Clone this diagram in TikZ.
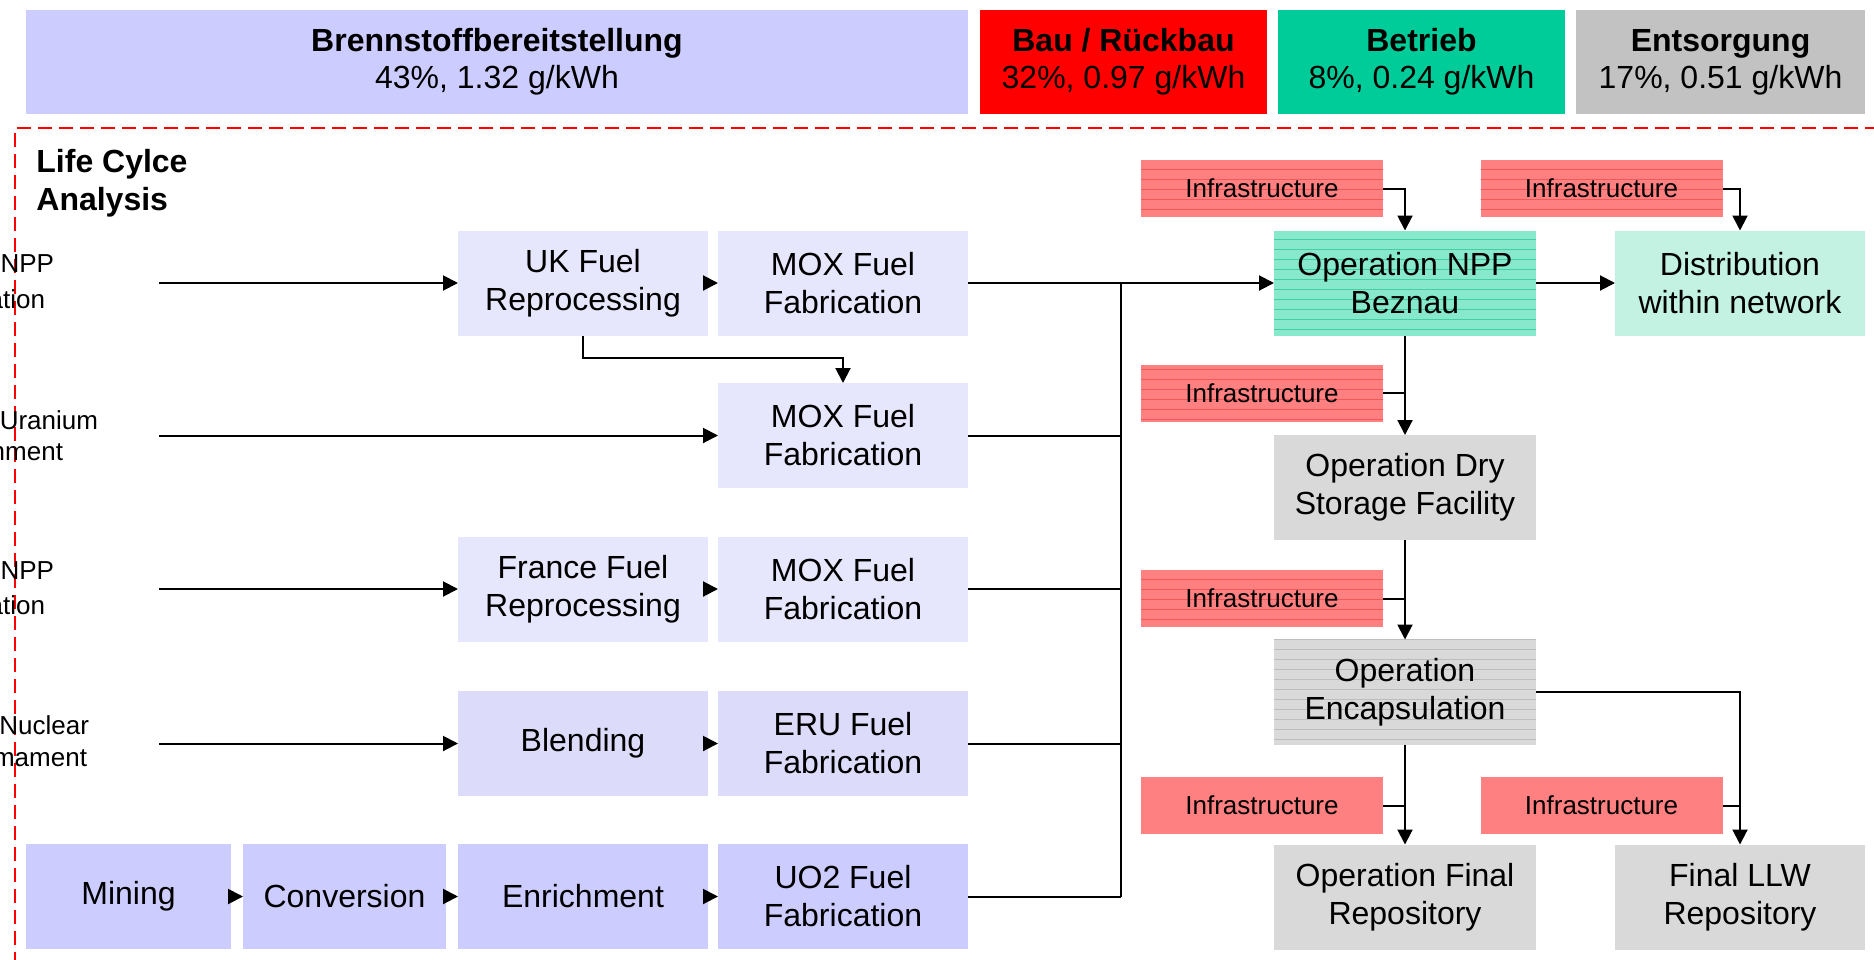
\documentclass[tikz,border=0pt]{standalone}
\usepackage{fontspec}
\setmainfont{Liberation Sans}
\usetikzlibrary{arrows.meta,patterns.meta}
\definecolor{lav}{HTML}{CCCCFF}
\definecolor{lavdot}{HTML}{E6E6FC}
\definecolor{lavdot2}{HTML}{DCDCFA}
\definecolor{hred}{HTML}{FF0000}
\definecolor{hteal}{HTML}{00CC99}
\definecolor{hgray}{HTML}{C2C2C2}
\definecolor{infra}{HTML}{FF8080}
\definecolor{infraline}{HTML}{F25A5A}
\definecolor{opteal}{HTML}{88E8CC}
\definecolor{optealline}{HTML}{44CFA2}
\definecolor{distteal}{HTML}{C4F2E2}
\definecolor{gbox}{HTML}{D9D9D9}
\definecolor{gline}{HTML}{BDBDBD}
\begin{document}
\begin{tikzpicture}[x=0.5pt,y=-0.5pt,
  box/.style={inner sep=0pt, outer sep=0pt, align=center, font=\fontsize{16}{19}\selectfont, minimum height=52.5pt},
  hdr/.style={inner sep=0pt, outer sep=0pt, align=center, font=\fontsize{16}{18.5}\selectfont, minimum height=52pt},
  infrabox/.style={inner sep=0pt, outer sep=0pt, minimum width=121pt, minimum height=28.5pt, font=\fontsize{13}{15}\selectfont},
  lbl/.style={inner sep=0pt, outer sep=0pt, anchor=east, font=\fontsize{13}{15}\selectfont},
  wA/.style={minimum width=102.5pt},
  wB/.style={minimum width=101.5pt},
  wC/.style={minimum width=125pt},
  wD/.style={minimum width=125pt},
  wE/.style={minimum width=131pt},
  lined/.style 2 args={fill=#1, postaction={pattern={Lines[distance=5pt,line width=0.45pt]}, pattern color=#2}},
  arr/.style={-{Triangle[length=7.5pt,width=7.5pt]}, line width=1pt},
  ln/.style={line width=1pt},
  border/.style={red, line width=1pt, dash pattern=on 7pt off 3.5pt}
]
\useasboundingbox (0,0) rectangle (1874,959);

% header
\node[hdr, fill=lav, minimum width=471pt] (h1) at (497,62) {\textbf{Brennstoffbereitstellung}\\43\%, 1.32 g/kWh};
\node[hdr, fill=hred, minimum width=143.5pt] (h2) at (1123.5,62) {\textbf{Bau / Rückbau}\\32\%, 0.97 g/kWh};
\node[hdr, fill=hteal, minimum width=143.5pt] (h3) at (1421.5,62) {\textbf{Betrieb}\\8\%, 0.24 g/kWh};
\node[hdr, fill=hgray, minimum width=144.5pt] (h4) at (1720.5,62) {\textbf{Entsorgung}\\17\%, 0.51 g/kWh};

% dashed life cycle border
\draw[border] (1900,128) -- (15,128) -- (15,990);
\node[inner sep=0pt, anchor=west, align=left, font=\bfseries\fontsize{16}{19}\selectfont] (lca) at (36,183) {Life Cylce\\Analysis};

% left labels (cut by the page edge, as in the reference)
\node[lbl] (l1a) at (54,264) {NPP};
\node[lbl] (l1b) at (45,299) {ation};
\node[lbl] (l2a) at (98,420) {Uranium};
\node[lbl] (l2b) at (63,452) {nment};
\node[lbl] (l3a) at (54,571) {NPP};
\node[lbl] (l3b) at (45,605) {ation};
\node[lbl] (l4a) at (89,725) {Nuclear};
\node[lbl] (l4b) at (87,758) {mament};

\coordinate (s1) at (159,282);
\coordinate (s2) at (159,434.5);
\coordinate (s3) at (159,588);
\coordinate (s4) at (159,742.5);

% fuel supply boxes
\node[box, fill=lavdot, wC] (uk) at (583,283) {UK Fuel\\Reprocessing};
\node[box, fill=lavdot, wD] (mox1) at (843,283) {MOX Fuel\\Fabrication};
\node[box, fill=lavdot, wD] (mox2) at (843,435.5) {MOX Fuel\\Fabrication};
\node[box, fill=lavdot, wC] (fr) at (583,589) {France Fuel\\Reprocessing};
\node[box, fill=lavdot, wD] (mox3) at (843,589) {MOX Fuel\\Fabrication};
\node[box, fill=lavdot2, wC] (blend) at (583,743.5) {Blending};
\node[box, fill=lavdot2, wD] (eru) at (843,743.5) {ERU Fuel\\Fabrication};
\node[box, fill=lav, wA] (mining) at (128.5,896.5) {Mining};
\node[box, fill=lav, wB] (conv) at (344.5,896.5) {Conversion};
\node[box, fill=lav, wC] (enr) at (583,896.5) {Enrichment};
\node[box, fill=lav, wD] (uo2) at (843,896.5) {UO2 Fuel\\Fabrication};

% operation / disposal boxes
\node[box, lined={opteal}{optealline}, wE] (npp) at (1405,283) {Operation NPP\\Beznau};
\node[box, fill=distteal, wD] (dist) at (1740,283) {Distribution\\within network};
\node[box, fill=gbox, wE] (dry) at (1405,487.5) {Operation Dry\\Storage Facility};
\node[box, lined={gbox}{gline}, wE] (enc) at (1405,692) {Operation\\Encapsulation};
\node[box, fill=gbox, wE] (frep) at (1405,897) {Operation Final\\Repository};
\node[box, fill=gbox, wD] (llw) at (1740,897) {Final LLW\\Repository};

% infrastructure boxes
\node[infrabox, lined={infra}{infraline}] (i1) at (1262,188.5) {Infrastructure};
\node[infrabox, lined={infra}{infraline}] (i2) at (1601.5,188.5) {Infrastructure};
\node[infrabox, lined={infra}{infraline}] (i3) at (1262,393) {Infrastructure};
\node[infrabox, lined={infra}{infraline}] (i4) at (1262,598.5) {Infrastructure};
\node[infrabox, fill=infra] (i5) at (1262,805.5) {Infrastructure};
\node[infrabox, fill=infra] (i6) at (1601.5,805.5) {Infrastructure};

% left connectors
\draw[arr] (s1 |- uk.west) -- (uk.west);
\draw[arr] (uk.east) -- (mox1.west);
\draw[arr] (uk.south) -- ++(0,22) -| (mox2.north);
\draw[arr] (s2 |- mox2.west) -- (mox2.west);
\draw[arr] (s3 |- fr.west) -- (fr.west);
\draw[arr] (fr.east) -- (mox3.west);
\draw[arr] (s4 |- blend.west) -- (blend.west);
\draw[arr] (blend.east) -- (eru.west);
\draw[arr] (mining.east) -- (conv.west);
\draw[arr] (conv.east) -- (enr.west);
\draw[arr] (enr.east) -- (uo2.west);

% collecting bus
\coordinate (b1) at (1121,283);
\coordinate (b5) at (1121,896.5);
\draw[arr] (mox1.east) -- (npp.west);
\draw[ln] (mox2.east) -- (mox2.east -| b1);
\draw[ln] (mox3.east) -- (mox3.east -| b1);
\draw[ln] (eru.east) -- (eru.east -| b1);
\draw[ln] (uo2.east) -- (b5);
\draw[ln] (b1) -- (b5);

% right connectors
\draw[arr] (i1.east) -| (npp.north);
\draw[arr] (i2.east) -| (dist.north);
\draw[arr] (npp.east) -- (dist.west);
\draw[arr] (npp.south) -- (dry.north);
\draw[ln] (i3.east) -- (i3.east -| npp.south);
\draw[arr] (dry.south) -- (enc.north);
\draw[ln] (i4.east) -- (i4.east -| dry.south);
\draw[arr] (enc.south) -- (frep.north);
\draw[ln] (i5.east) -- (i5.east -| enc.south);
\draw[arr] (enc.east) -| (llw.north);
\draw[ln] (i6.east) -- (i6.east -| llw.north);
\end{tikzpicture}
\end{document}
